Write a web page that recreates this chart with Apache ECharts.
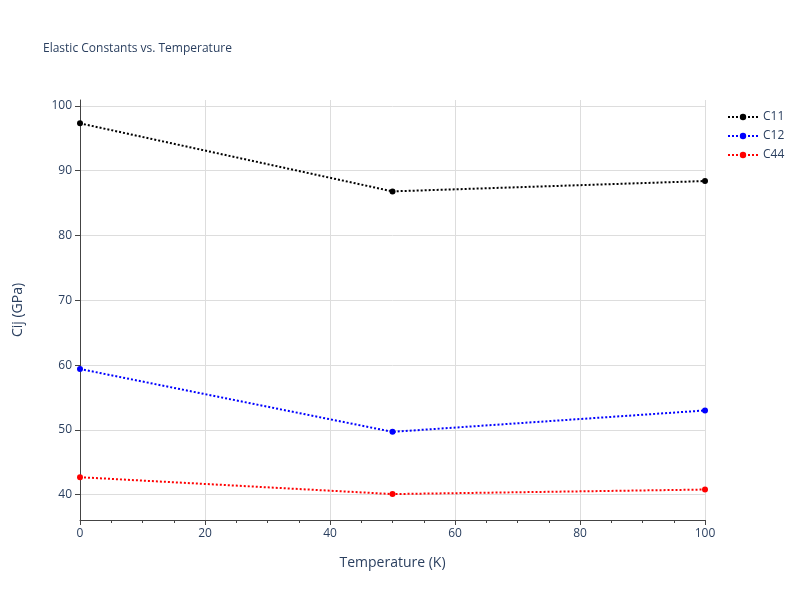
<!DOCTYPE html>
<html>
<head>
<meta charset="utf-8">
<script src="https://cdn.jsdelivr.net/npm/echarts@6/dist/echarts.min.js"></script>
<style>html,body{margin:0;padding:0;background:#fff}#main{width:800px;height:600px}</style>
</head>
<body>
<div id="main"></div>
<script>
var temps = [0, 50, 100];
var c11 = [97.3, 86.8, 88.4];
var c12 = [59.4, 49.7, 53.0];
var c44 = [42.7, 40.1, 40.8];
var yTicks = [40, 50, 60, 70, 80, 90, 100];

function pairs(ys){
    return temps.map(function(t, i){ return [t, ys[i]]; });
}

function makeSeries(name, ys, color){
    return {
        name: name,
        type: 'line',
        data: pairs(ys),
        symbol: 'circle',
        symbolSize: 6,
        itemStyle: { color: color },
        lineStyle: { color: color, width: 2, type: [2, 2] }
    };
}

var chart = echarts.init(document.getElementById('main'));
var axisText = { color: '#2a3f5f', fontFamily: 'Open Sans', fontSize: 12 };
chart.setOption({
    animation: false,
    textStyle: { fontFamily: 'Open Sans' },
    title: {
        text: 'Elastic Constants vs. Temperature',
        left: 38, top: 38,
        textStyle: { fontSize: 12, fontWeight: 'normal', color: '#2a3f5f' }
    },
    legend: {
        orient: 'vertical',
        left: 722, top: 106,
        itemWidth: 30, itemHeight: 8, itemGap: 7,
        textStyle: { color: '#2a3f5f', fontSize: 12 },
        data: ['C11', 'C12', 'C44']
    },
    grid: { left: 80, right: 95, top: 100, bottom: 80 },
    xAxis: {
        type: 'value', min: 0, max: 100, interval: 20,
        name: 'Temperature (K)', nameLocation: 'middle', nameGap: 36,
        nameTextStyle: { color: '#2a3f5f', fontSize: 14 },
        axisLine: { show: true, lineStyle: { color: '#444' } },
        axisTick: { show: true, length: 5, lineStyle: { color: '#444' } },
        minorTick: { show: true, splitNumber: 4, length: 3, lineStyle: { color: '#444' } },
        axisLabel: axisText,
        splitLine: { show: true, lineStyle: { color: '#ddd' } }
    },
    yAxis: {
        type: 'value', min: 36.1, max: 100.9,
        name: 'Cij (GPa)', nameLocation: 'middle', nameGap: 55,
        nameTextStyle: { color: '#2a3f5f', fontSize: 14 },
        axisLine: { show: true, lineStyle: { color: '#444' } },
        axisTick: { show: true, length: 5, customValues: yTicks, lineStyle: { color: '#444' } },
        axisLabel: Object.assign({ customValues: yTicks }, axisText),
        splitLine: { show: true, lineStyle: { color: '#ddd' } }
    },
    series: [
        makeSeries('C11', c11, '#000000'),
        makeSeries('C12', c12, '#0000ff'),
        makeSeries('C44', c44, '#ff0000')
    ]
});
</script>
</body>
</html>
